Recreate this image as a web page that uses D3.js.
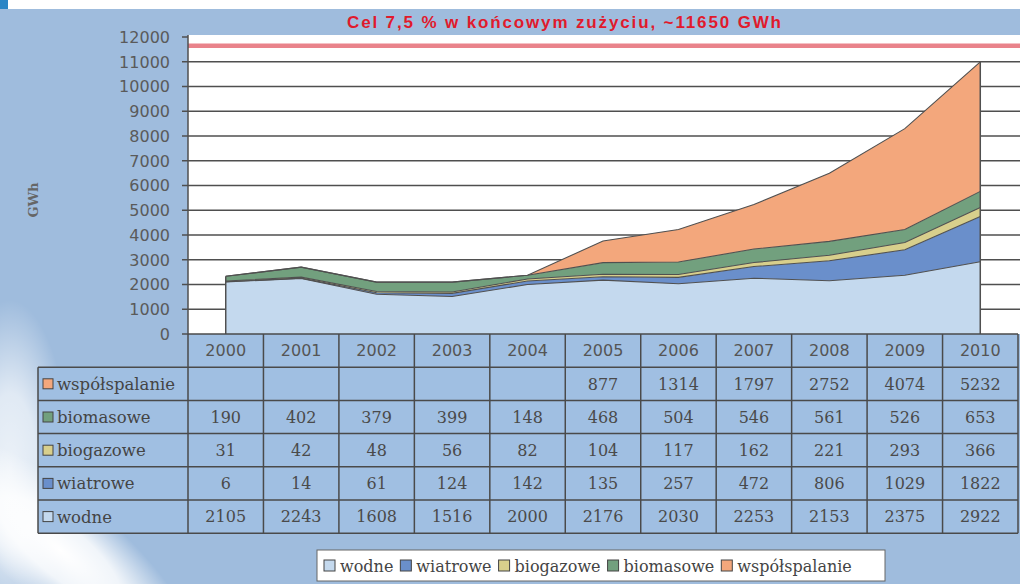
<!DOCTYPE html>
<html>
<head>
<meta charset="utf-8">
<script src="https://cdn.jsdelivr.net/npm/d3@7"></script>
<style>
  body { margin: 0; background: #fff; }
  svg { display: block; }
</style>
</head>
<body>
<div id="chart"></div>
<script>
// data
var years = [2000, 2001, 2002, 2003, 2004, 2005, 2006, 2007, 2008, 2009, 2010];
var wodne = [2105, 2243, 1608, 1516, 2000, 2176, 2030, 2253, 2153, 2375, 2922];
var wiatrowe = [6, 14, 61, 124, 142, 135, 257, 472, 806, 1029, 1822];
var biogazowe = [31, 42, 48, 56, 82, 104, 117, 162, 221, 293, 366];
var biomasowe = [190, 402, 379, 399, 148, 468, 504, 546, 561, 526, 653];
var wspolspalanie = [null, null, null, null, null, 877, 1314, 1797, 2752, 4074, 5232];
var seriesNames = ["wodne", "wiatrowe", "biogazowe", "biomasowe", "współspalanie"];
var seriesValues = [wodne, wiatrowe, biogazowe, biomasowe, wspolspalanie];
var colors = ["#c4d9ee", "#6a8fcb", "#d8cf8c", "#72a07e", "#f3a77c"];
var yTicks = [0, 1000, 2000, 3000, 4000, 5000, 6000, 7000, 8000, 9000, 10000, 11000, 12000];
var target = 11650;
var title = "Cel 7,5 %  w końcowym zużyciu, ~11650 GWh";

var W = 1020, H = 584;
var svg = d3.select("#chart").append("svg").attr("width", W).attr("height", H);

// background with the light streak in the lower left
var defs = svg.append("defs");
var glow = defs.append("radialGradient").attr("id", "glow");
glow.append("stop").attr("offset", "0%").attr("stop-color", "#ffffff").attr("stop-opacity", 1);
glow.append("stop").attr("offset", "45%").attr("stop-color", "#ffffff").attr("stop-opacity", 0.85);
glow.append("stop").attr("offset", "100%").attr("stop-color", "#ffffff").attr("stop-opacity", 0);

svg.append("rect").attr("width", W).attr("height", H).attr("fill", "#9fbcdd");
svg.append("ellipse").attr("cx", 10).attr("cy", 470).attr("rx", 60).attr("ry", 170)
  .attr("fill", "url(#glow)").attr("opacity", 0.8);
svg.append("ellipse").attr("cx", 60).attr("cy", 550).attr("rx", 170).attr("ry", 55)
  .attr("transform", "rotate(40,60,550)").attr("fill", "url(#glow)");
svg.append("rect").attr("width", W).attr("height", 9).attr("fill", "#ffffff");
svg.append("rect").attr("x", 0).attr("y", 0).attr("width", 8).attr("height", 9).attr("fill", "#2b86c6");

var plotLeft = 188, plotRight = 1018, plotTop = 37, plotBottom = 334;
var x = d3.scaleBand().domain(years).range([plotLeft, plotRight]);
var cx = function (d) { return x(d) + x.bandwidth() / 2; };
var y = d3.scaleLinear().domain([0, 12000]).range([plotBottom, plotTop]);

// plot area
svg.append("rect").attr("x", plotLeft).attr("y", plotTop - 2)
  .attr("width", W - plotLeft).attr("height", plotBottom - plotTop + 2).attr("fill", "#ffffff");

svg.append("g").selectAll("line").data(yTicks.filter(function (d) { return d > 0 && d < 12000; }))
  .enter().append("line")
  .attr("x1", plotLeft).attr("x2", W)
  .attr("y1", function (d) { return y(d); }).attr("y2", function (d) { return y(d); })
  .attr("stroke", "#4f4f4f").attr("stroke-width", 1.5);

// target line
svg.append("line").attr("x1", plotLeft).attr("x2", W)
  .attr("y1", y(target)).attr("y2", y(target))
  .attr("stroke", "#e9838b").attr("stroke-width", 4.5);

// stacked areas
var rows = years.map(function (yr, i) {
  var r = { year: yr };
  seriesNames.forEach(function (s, j) { r[s] = seriesValues[j][i] || 0; });
  return r;
});
var stacked = d3.stack().keys(seriesNames)(rows);

var area = d3.area()
  .x(function (d) { return cx(d.data.year); })
  .y0(function (d) { return y(d[0]); })
  .y1(function (d) { return y(d[1]); });
var topLine = d3.line()
  .x(function (d) { return cx(d.data.year); })
  .y(function (d) { return y(d[1]); });

svg.append("g").selectAll("path").data(stacked).enter().append("path")
  .attr("d", area).attr("fill", function (d, i) { return colors[i]; });
svg.append("g").selectAll("path").data(stacked).enter().append("path")
  .attr("d", topLine).attr("fill", "none")
  .attr("stroke", "#505050").attr("stroke-width", 1.1);

var totals = stacked[stacked.length - 1];
[0, years.length - 1].forEach(function (i) {
  svg.append("line")
    .attr("x1", cx(years[i])).attr("x2", cx(years[i]))
    .attr("y1", y(0)).attr("y2", y(totals[i][1]))
    .attr("stroke", "#505050").attr("stroke-width", 1.5);
});

// y axis
svg.append("line").attr("x1", plotLeft).attr("x2", plotLeft).attr("y1", plotTop - 2).attr("y2", plotBottom)
  .attr("stroke", "#4f4f4f").attr("stroke-width", 1.5);
var yAxis = svg.append("g");
yAxis.selectAll("line").data(yTicks).enter().append("line")
  .attr("x1", plotLeft - 6).attr("x2", plotLeft)
  .attr("y1", function (d) { return y(d); }).attr("y2", function (d) { return y(d); })
  .attr("stroke", "#4f4f4f").attr("stroke-width", 1.5);
yAxis.selectAll("text").data(yTicks).enter().append("text")
  .attr("x", plotLeft - 18).attr("y", function (d) { return y(d); })
  .attr("dy", "0.36em").attr("text-anchor", "end")
  .style("font-family", "DejaVu Sans").style("font-size", "16px").style("fill", "#5a5a5a")
  .text(function (d) { return d; });

svg.append("text")
  .attr("transform", "translate(38,200)rotate(-90)")
  .attr("text-anchor", "middle")
  .style("font-family", "DejaVu Serif").style("font-size", "13px").style("font-weight", "bold")
  .style("fill", "#666").text("GWh");

// title
svg.append("text").attr("x", 347).attr("y", 28)
  .attr("textLength", 434).attr("lengthAdjust", "spacing")
  .style("font-family", "Liberation Sans").style("font-size", "17px").style("font-weight", "bold")
  .style("fill", "#e01a2c").text(title);

// data table
var rowH = 33.2, labelLeft = 38;
var tableRows = seriesNames.slice().reverse();
var tableVals = seriesValues.slice().reverse();
var tableCols = colors.slice().reverse();
var tbl = svg.append("g");
tbl.append("rect").attr("x", plotLeft).attr("y", plotBottom).attr("width", plotRight - plotLeft).attr("height", rowH)
  .attr("fill", "#a0bfe2");
tbl.append("rect").attr("x", labelLeft).attr("y", plotBottom + rowH).attr("width", plotRight - labelLeft)
  .attr("height", rowH * 5).attr("fill", "#a0bfe2");

tbl.selectAll("text.year").data(years).enter().append("text").attr("class", "year")
  .attr("x", cx).attr("y", plotBottom + rowH / 2).attr("dy", "0.36em").attr("text-anchor", "middle")
  .style("font-family", "DejaVu Sans").style("font-size", "16px").style("fill", "#555")
  .text(function (d) { return d; });

tableRows.forEach(function (name, r) {
  var ry = plotBottom + rowH * (r + 1);
  tbl.append("rect").attr("x", labelLeft + 5).attr("y", ry + rowH / 2 - 5)
    .attr("width", 10).attr("height", 10)
    .attr("fill", tableCols[r]).attr("stroke", "#444").attr("stroke-width", 1);
  tbl.append("text").attr("x", labelLeft + 19).attr("y", ry + rowH / 2).attr("dy", "0.36em")
    .style("font-family", "DejaVu Serif").style("font-size", "16.5px").style("fill", "#444")
    .text(name);
  tbl.selectAll(null).data(tableVals[r]).enter().append("text")
    .attr("x", function (d, i) { return cx(years[i]); })
    .attr("y", ry + rowH / 2).attr("dy", "0.36em").attr("text-anchor", "middle")
    .style("font-family", "DejaVu Serif").style("font-size", "16px").style("fill", "#4a4a4a")
    .text(function (d) { return d == null ? "" : d; });
});

// table grid
var gridStroke = "#4a4a4a";
d3.range(0, 7).forEach(function (k) {
  tbl.append("line")
    .attr("x1", k === 0 ? plotLeft : labelLeft).attr("x2", plotRight)
    .attr("y1", plotBottom + rowH * k).attr("y2", plotBottom + rowH * k)
    .attr("stroke", gridStroke).attr("stroke-width", 1.5);
});
tbl.append("line").attr("x1", labelLeft).attr("x2", labelLeft)
  .attr("y1", plotBottom + rowH).attr("y2", plotBottom + rowH * 6)
  .attr("stroke", gridStroke).attr("stroke-width", 1.5);
years.concat(["end"]).forEach(function (d, i) {
  var xx = plotLeft + i * x.bandwidth();
  tbl.append("line").attr("x1", xx).attr("x2", xx)
    .attr("y1", plotBottom).attr("y2", plotBottom + rowH * 6)
    .attr("stroke", gridStroke).attr("stroke-width", 1.5);
});

// legend
var legend = svg.append("g");
legend.append("rect").attr("x", 317).attr("y", 550).attr("width", 568).attr("height", 31)
  .attr("fill", "#ffffff").attr("stroke", "#666").attr("stroke-width", 1);
var lx = 324;
seriesNames.forEach(function (name, i) {
  legend.append("rect").attr("x", lx).attr("y", 560).attr("width", 11).attr("height", 11)
    .attr("fill", colors[i]).attr("stroke", "#444").attr("stroke-width", 1);
  var t = legend.append("text").attr("x", lx + 16).attr("y", 566).attr("dy", "0.36em")
    .style("font-family", "DejaVu Serif").style("font-size", "16px").style("fill", "#444")
    .text(name);
  lx += 16 + t.node().getComputedTextLength() + 7;
});
</script>
</body>
</html>
